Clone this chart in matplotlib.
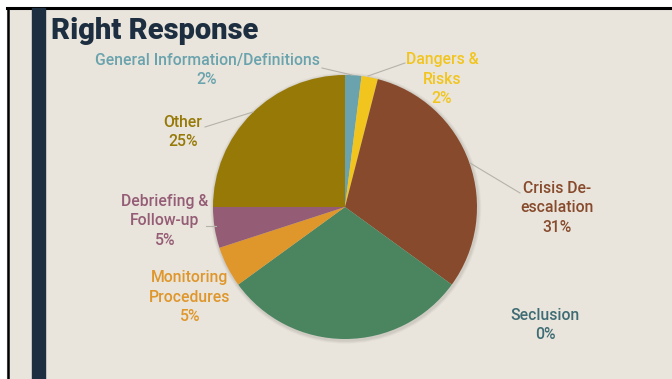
import matplotlib.pyplot as plt
from matplotlib.patches import Circle, Rectangle

# Training topics covered in the "Right Response" module (share of content)
categories = ["General Information/Definitions", "Dangers &\nRisks",
              "Crisis De-\nescalation", "Seclusion", "",
              "Monitoring\nProcedures", "Debriefing &\nFollow-up", "Other"]
shares = [2, 2, 31, 0, 30, 5, 5, 25]
colors = ["#6AA3AD", "#F2C51E", "#874A2C", "#3F6C74", "#4A8560",
          "#DF962A", "#955C75", "#967907"]

W, H = 672, 379
bg = "#E9E5DC"
navy = "#1C2E40"

fig = plt.figure(figsize=(W / 100, H / 100), dpi=100, facecolor="white")
ax = fig.add_axes([0, 0, 1, 1])


def py(y):
    # pixel rows are counted from the top
    return H - y


# slide background, borders and accent bar
ax.add_patch(Rectangle((7, 0), W - 7, py(8), color=bg, zorder=0))
ax.plot([7, W], [py(8), py(8)], color="black", lw=2.2, zorder=1)
ax.plot([7.5, 7.5], [0, py(8)], color="black", lw=1.8, zorder=1)
ax.add_patch(Rectangle((32, 0), 13, py(8), color=navy, zorder=1))

ax.text(51, py(31), "Right Response", fontsize=21, fontweight=900,
        color=navy, family="Roboto", va="center", ha="left")

cx, cy, r = 345, py(207), 132

# soft drop shadow under the pie
for k, a in [(3.5, 0.05), (2.5, 0.07), (1.5, 0.09)]:
    ax.add_patch(Circle((cx + 0.8, cy - 1.2), r + k, color="#6E6A60",
                        alpha=a, lw=0, zorder=2))

ax.pie(shares, colors=colors, startangle=90, counterclock=False,
       center=(cx, cy), radius=r, frame=True,
       wedgeprops=dict(linewidth=0, zorder=3))
ax.set_xlim(0, W)
ax.set_ylim(0, H)
ax.axis("off")

label_pos = [(207, 70), (442, 79), (557, 208), (545, 325), None,
             (190, 297), (165, 221), (183, 132)]
text_colors = ["#6AA3AD", "#F2C51E", "#874A2C", "#3F6C74", "#4A8560",
               "#DF962A", "#955C75", "#967907"]
for name, val, pos, c in zip(categories, shares, label_pos, text_colors):
    if not name:
        continue
    ax.text(pos[0], py(pos[1]), f"{name}\n{val}%", fontsize=11.3,
            fontweight="medium", color=c, family="Roboto", ha="center",
            va="center", linespacing=1.35, zorder=5)

# leader lines from labels to their wedges
leaders = [((322, 68), (352, 75)), ((405, 63), (368, 76)),
           ((520, 193), (470, 163)), ((206, 226), (216, 226)),
           ((205, 127), (253, 112))]
for (x0, y0), (x1, y1) in leaders:
    ax.plot([x0, x1], [py(y0), py(y1)], color="#B5B2AA", lw=0.8, zorder=4)

fig.savefig("out.png", dpi=100, facecolor="white")
